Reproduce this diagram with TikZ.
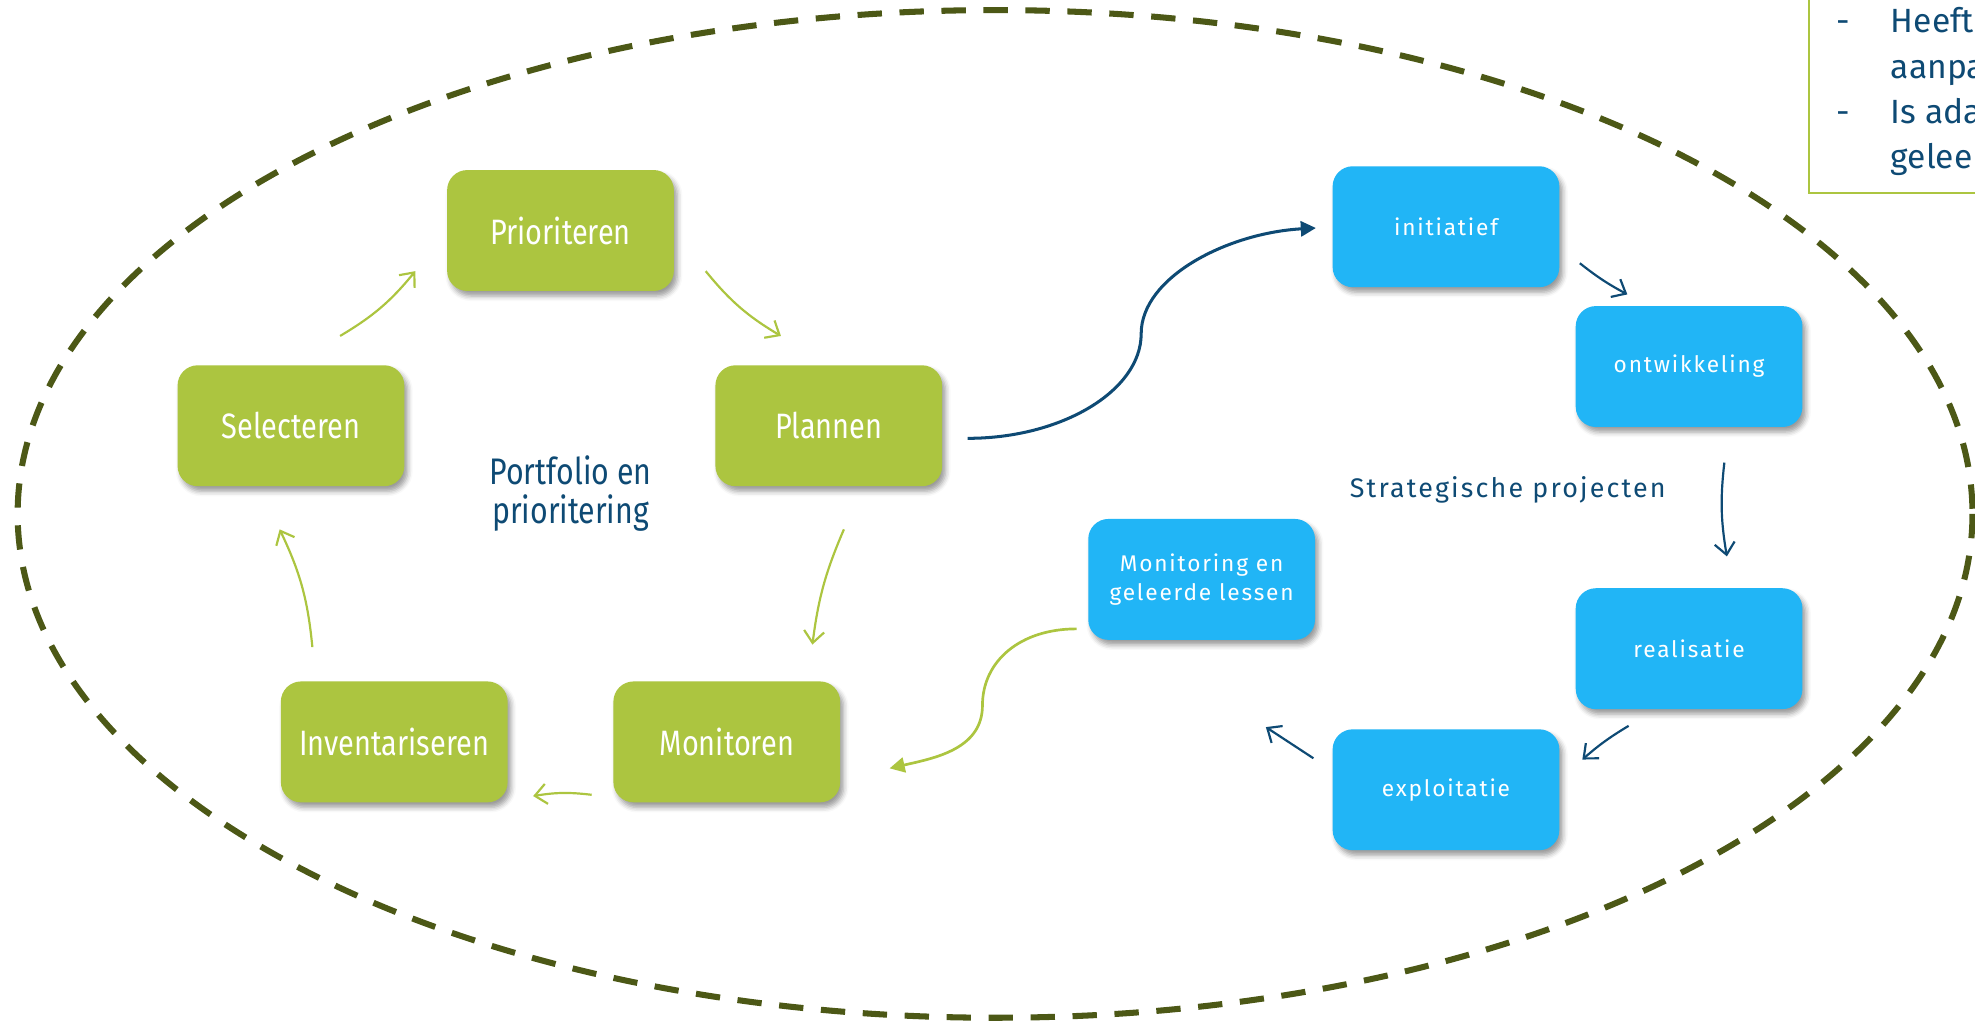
\documentclass[tikz,border=0pt]{standalone}
\usepackage{fontspec}
\setmainfont{Fira Sans}
\newfontfamily\narrowfont[FakeStretch=0.82]{Fira Sans}
\newfontfamily\wideletters[LetterSpace=8]{Fira Sans}
\usepackage{tikz}
\usetikzlibrary{arrows.meta,shadows.blur}

\definecolor{boxgreen}{RGB}{172,197,64}
\definecolor{boxblue}{RGB}{33,181,246}
\definecolor{portblue}{RGB}{14,74,116}
\definecolor{ringolive}{RGB}{76,88,22}

\tikzset{
  gbox/.style={rectangle, rounded corners=12pt, fill=boxgreen, text=white, minimum width=135pt, minimum height=72pt, font=\narrowfont\fontsize{21}{25}\selectfont, blur shadow={shadow xshift=2pt, shadow yshift=-3pt, shadow blur radius=3pt, shadow opacity=40}},
  bbox/.style={rectangle, rounded corners=12pt, fill=boxblue, text=white, minimum width=135pt, minimum height=72pt, align=center, font=\wideletters\fontsize{13.5}{17}\selectfont, blur shadow={shadow xshift=2pt, shadow yshift=-3pt, shadow blur radius=3pt, shadow opacity=40}},
  garrow/.style={draw=boxgreen, line width=1.3pt, -{Straight Barb[length=7pt,width=12pt]}},
  barrow/.style={draw=portblue, line width=1.3pt, -{Straight Barb[length=7pt,width=12pt]}},
  listtext/.style={text=portblue, inner sep=0pt, font=\fontsize{20}{27}\selectfont}
}

\begin{document}
\begin{tikzpicture}[x=0.75pt,y=0.75pt,yscale=-1,xscale=1]
\useasboundingbox (0,0) rectangle (1568,814);
\clip (0,0) rectangle (1568,814);

%Dashed Ellipse
\draw [ringolive, line width=3.6pt, dash pattern=on 14.5pt off 10.5pt] (790,408) ellipse [x radius=776, y radius=400];

%Text box top right
\draw [boxgreen, line width=1.4pt] (1436,-20) rectangle (1620,153);
\node [listtext, anchor=base west] (dashA) at (1458,26) {-};
\node [listtext, anchor=base west] (lineA) at (1501,26) {Heeft ruimte voor};
\node [listtext, anchor=base west] (lineB) at (1501,62) {aanpassingen};
\node [listtext, anchor=base west] (dashB) at (1458,98) {-};
\node [listtext, anchor=base west] (lineC) at (1501,98) {Is adaptief};
\node [listtext, anchor=base west] (lineD) at (1501,134) {geleerde lessen};

% Portfolio cycle
\node [gbox] (Prio) at (445,183) {Prioriteren};
\node [gbox] (Sel) at (231,338) {Selecteren};
\node [gbox] (Plan) at (658,338) {Plannen};
\node [gbox] (Inv) at (313,589) {Inventariseren};
\node [gbox] (Mon) at (577,589) {Monitoren};

% Project cycle
\node [bbox] (Init) at (1148,180) {initiatief};
\node [bbox] (Ontw) at (1341,291) {ontwikkeling};
\node [bbox] (Real) at (1341,515) {realisatie};
\node [bbox] (Expl) at (1148,627) {exploitatie};
\node [bbox] (Les) at (954,460) {Monitoring en\\geleerde lessen};

% Text Node
\node [text=portblue, align=center, font=\narrowfont\fontsize{22}{23.5}\selectfont] (portlabel) at (453,392) {Portfolio en\\prioritering};
% Text Node
\node [text=portblue, font=\wideletters\fontsize{16}{20}\selectfont] (projlabel) at (1197,389) {Strategische projecten};

%Straight Lines
\draw [garrow] ([shift={(39,-23)}]Sel.north) to [bend left=10] ([shift={(-25,-16)}]Prio.south west);
\draw [garrow] ([shift={(25,-16)}]Prio.south east) to [bend left=10] ([shift={(-38,-23)}]Plan.north);
\draw [garrow] ([shift={(12,34)}]Plan.south) to [bend left=8] ([shift={(68,-29)}]Mon.north);
\draw [garrow] ([shift={(-17,42)}]Mon.west) to [bend left=8] ([shift={(20,43)}]Inv.east);
\draw [garrow] ([shift={(-65,-27)}]Inv.north) to [bend left=10] ([shift={(-9,34)}]Sel.south);

\draw [barrow] ([shift={(16,29)}]Init.east) to [bend left=5] ([shift={(-49,-9)}]Ontw.north);
\draw [barrow] ([shift={(28,28)}]Ontw.south) to [bend left=8] ([shift={(30,-25)}]Real.north);
\draw [barrow] ([shift={(-48,13)}]Real.south) to [bend left=5] ([shift={(18,-24)}]Expl.east);
\draw [barrow] ([shift={(-15,-25)}]Expl.west) to ([shift={(51,69)}]Les.south);

%Curve Lines
\coordinate (sbend) at (906,265);
\draw [portblue, line width=1.8pt, -{Triangle[length=9pt,width=9pt]}] ([shift={(20,10)}]Plan.east) .. controls +(75,0) and +(0,45) .. (sbend) .. controls +(0,-45) and +(-70,4) .. ([shift={(-13,1)}]Init.west);
\coordinate (gbend) at (780,560);
\draw [boxgreen, line width=1.6pt, -{Triangle[length=9pt,width=9pt]}] ([shift={(-9,-9)}]Les.south west) .. controls +(-45,0) and +(0,-35) .. (gbend) .. controls +(0,35) and +(35,-8) .. ([shift={(39,21)}]Mon.east);

\end{tikzpicture}
\end{document}
